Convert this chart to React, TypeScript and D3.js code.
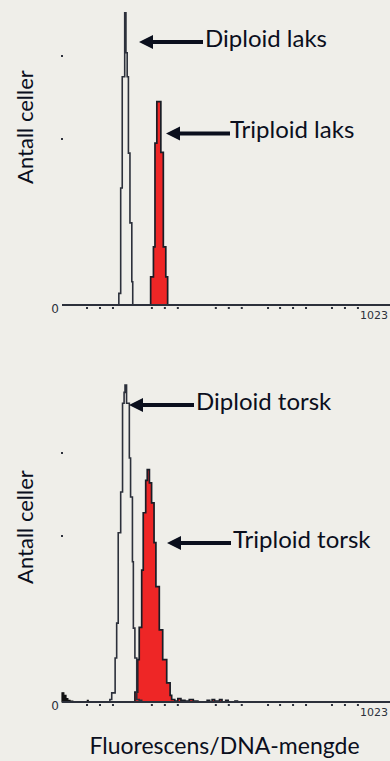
import React from "react";
import * as d3 from "d3";

type Bin = { ch: number; n: number };

// ---- data (channel = DNA fluorescence, n = cell count) ----
const laksDiploid: Bin[] = [
  { ch: 180, n: 0 }, { ch: 184, n: 14 }, { ch: 190, n: 141 }, { ch: 195, n: 275 },
  { ch: 203, n: 352 }, { ch: 207, n: 304 }, { ch: 211, n: 275 }, { ch: 215, n: 183 },
  { ch: 220, n: 99 }, { ch: 226, n: 28 }, { ch: 229, n: 0 }, { ch: 232, n: 0 },
];
const laksTriploid: Bin[] = [
  { ch: 284, n: 0 }, { ch: 287, n: 34 }, { ch: 296, n: 70 }, { ch: 301, n: 195 },
  { ch: 307, n: 245 }, { ch: 320, n: 184 }, { ch: 328, n: 70 }, { ch: 336, n: 34 },
  { ch: 342, n: 0 }, { ch: 345, n: 0 },
];
const torskDebris: Bin[] = [
  { ch: 0, n: 11 }, { ch: 6, n: 8 }, { ch: 13, n: 4 }, { ch: 19, n: 2 }, { ch: 26, n: 1 },
  { ch: 35, n: 0 }, { ch: 80, n: 0 }, { ch: 82, n: 2 }, { ch: 85, n: 0 },
];
const torskDiploid: Bin[] = [
  { ch: 150, n: 0 }, { ch: 155, n: 3 }, { ch: 161, n: 11 }, { ch: 172, n: 53 },
  { ch: 177, n: 95 }, { ch: 182, n: 204 }, { ch: 190, n: 253 }, { ch: 196, n: 360 },
  { ch: 201, n: 373 }, { ch: 204, n: 382 }, { ch: 209, n: 360 }, { ch: 218, n: 294 },
  { ch: 222, n: 247 }, { ch: 228, n: 169 }, { ch: 231, n: 89 }, { ch: 236, n: 53 },
  { ch: 242, n: 3 }, { ch: 250, n: 2 }, { ch: 258, n: 0 },
];
const torskTriploid: Bin[] = [
  { ch: 230, n: 0 }, { ch: 236, n: 12 }, { ch: 245, n: 51 }, { ch: 250, n: 90 },
  { ch: 258, n: 159 }, { ch: 263, n: 228 }, { ch: 271, n: 267 }, { ch: 276, n: 280 },
  { ch: 283, n: 264 }, { ch: 290, n: 240 }, { ch: 298, n: 192 }, { ch: 304, n: 139 },
  { ch: 315, n: 87 }, { ch: 326, n: 51 }, { ch: 339, n: 23 }, { ch: 350, n: 8 },
  { ch: 355, n: 3 }, { ch: 365, n: 1 }, { ch: 375, n: 4 }, { ch: 385, n: 2 },
  { ch: 398, n: 1 }, { ch: 412, n: 3 }, { ch: 425, n: 1 }, { ch: 440, n: 0 },
  { ch: 470, n: 2 }, { ch: 478, n: 0 }, { ch: 486, n: 3 }, { ch: 494, n: 1 },
  { ch: 510, n: 3 }, { ch: 518, n: 0 }, { ch: 530, n: 2 }, { ch: 538, n: 0 },
  { ch: 560, n: 1 }, { ch: 568, n: 0 }, { ch: 600, n: 0 },
];

const xTicks = [81, 123, 165, 291, 333, 375, 498, 540, 582, 667, 706, 748, 790, 874, 916, 958];
const yTicks = [200, 300];
const xDomain = [0, 1023];
const xTickLabels = ["0", "1023"];

const labelsTop = ["Diploid laks", "Triploid laks"];
const labelsBottom = ["Diploid torsk", "Triploid torsk"];
const yLabel = "Antall celler";
const xLabel = "Fluorescens/DNA-mengde";

// ---- layout ----
const W = 390;
const H = 761;
const BG = "#efeee9";
const INK = "#0b0f1d";
const LINE = "#2c303b";
const RED = "#ee2626";
const FONT = "Lato, 'Open Sans', sans-serif";

const x = d3.scaleLinear().domain(xDomain).range([62, 378]);

function Arrow({ tip, ty, end }: { tip: number; ty: number; end: number }) {
  return (
    <g fill={INK} stroke="none">
      <rect x={tip + 12} y={ty - 2} width={end - tip - 12} height={4} />
      <path d={`M${tip},${ty} L${tip + 14},${ty - 7} L${tip + 14},${ty + 7} Z`} />
    </g>
  );
}

function Panel({
  base,
  diploid,
  triploid,
  debris,
  labels,
  ann,
  yLabelCenter,
}: {
  base: number;
  diploid: Bin[];
  triploid: Bin[];
  debris?: Bin[];
  labels: string[];
  ann: { tip: number; ty: number; end: number; tx: number; by: number }[];
  yLabelCenter: number;
}) {
  const y = d3.scaleLinear().domain([0, 400]).range([base, base - 332]);
  const line = d3
    .line<Bin>()
    .x((d) => x(d.ch))
    .y((d) => y(d.n))
    .curve(d3.curveStepAfter);
  const area = d3
    .area<Bin>()
    .x((d) => x(d.ch))
    .y0(base)
    .y1((d) => y(d.n))
    .curve(d3.curveStepAfter);

  return (
    <g>
      <path d={area(triploid) || ""} fill={RED} />
      <path d={line(triploid) || ""} fill="none" stroke="#1a1d26" strokeWidth={1.7} />
      <path d={line(diploid) || ""} fill="none" stroke={LINE} strokeWidth={1.6} />
      {debris && (
        <path d={area(debris) || ""} fill="#111" stroke="#111" strokeWidth={1.2} />
      )}
      {/* x axis */}
      <line x1={x(0)} x2={W} y1={base} y2={base} stroke={LINE} strokeWidth={2} />
      {xTicks.map((t) => (
        <rect key={t} x={x(t) - 1} y={base + 2} width={2} height={2} fill={LINE} />
      ))}
      {yTicks.map((t) => (
        <rect key={t} x={x(0) - 1} y={y(t) - 1} width={2} height={2} fill={LINE} />
      ))}
      <text x={x(0) - 7} y={base + 8} fontSize={12} fill={LINE} fontFamily="DejaVu Sans" textAnchor="middle">
        {xTickLabels[0]}
      </text>
      <text x={388} y={base + 14} fontSize={11} fill={LINE} fontFamily="DejaVu Sans" textAnchor="end">
        {xTickLabels[1]}
      </text>
      {/* y label */}
      <text
        transform={`translate(33,${yLabelCenter}) rotate(-90)`}
        textAnchor="middle"
        fontSize={22}
        fontFamily={FONT}
        fill={INK}
      >
        {yLabel}
      </text>
      {ann.map((a, i) => (
        <g key={i}>
          <Arrow tip={a.tip} ty={a.ty} end={a.end} />
          <text x={a.tx} y={a.by} fontSize={24} fontFamily={FONT} fill={INK}>
            {labels[i]}
          </text>
        </g>
      ))}
    </g>
  );
}

export default function App() {
  return (
    <div style={{ position: "fixed", left: 0, top: 0, width: W, height: H }}>
      <svg width={W} height={H} style={{ display: "block" }}>
        <rect width={W} height={H} fill={BG} />
        <Panel
          base={305}
          diploid={laksDiploid}
          triploid={laksTriploid}
          labels={labelsTop}
          yLabelCenter={127}
          ann={[
            { tip: 139, ty: 42, end: 203, tx: 205, by: 47 },
            { tip: 166, ty: 133.5, end: 230, tx: 230, by: 138 },
          ]}
        />
        <Panel
          base={702}
          diploid={torskDiploid}
          triploid={torskTriploid}
          debris={torskDebris}
          labels={labelsBottom}
          yLabelCenter={527}
          ann={[
            { tip: 129, ty: 405, end: 194, tx: 196, by: 410 },
            { tip: 167, ty: 543, end: 231, tx: 233, by: 548 },
          ]}
        />
        <text x={224.5} y={754} textAnchor="middle" fontSize={23} fontFamily={FONT} fill={INK}>
          {xLabel}
        </text>
      </svg>
    </div>
  );
}
